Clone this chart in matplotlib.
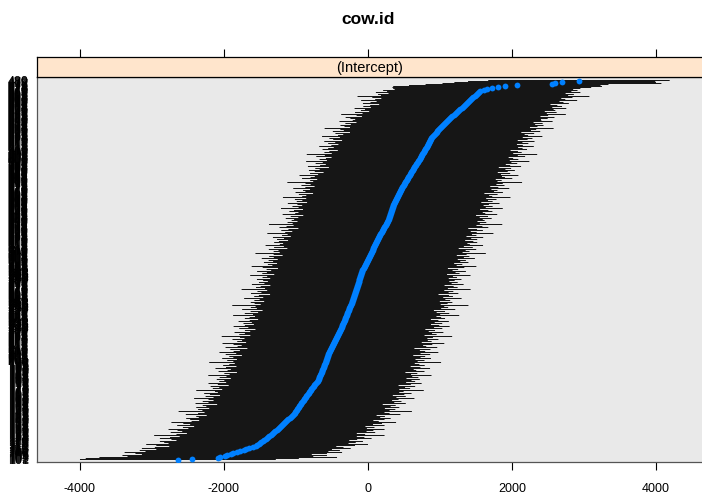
import matplotlib
matplotlib.use("Agg")
from matplotlib import pyplot as plt

plt.rcParams['font.family'] = ['Liberation Sans', 'DejaVu Sans']

# conditional modes of cow.id (sorted, bottom row first)
cow_means = [
    -2640, -2440, -2080, -2050, -1990, -1960, -1900, -1870, -1820, -1780, -1720,
    -1690, -1650, -1600, -1560, -1540, -1520, -1500, -1480, -1460, -1440, -1420, -1400,
    -1385, -1370, -1350, -1335, -1320, -1300, -1285, -1270, -1255, -1240,
    -1225, -1210, -1200, -1185, -1170, -1150, -1135, -1120, -1105, -1090, -1075, -1060, -1040,
    -1030, -1020, -1010, -1000, -990, -985, -975, -965, -955, -945, -935, -925, -915, -905, -895, -885, -875,
    -865, -855, -845, -835, -825, -815, -805, -795, -785, -775, -765, -755, -745, -735, -720, -705, -695,
    -690, -685, -680, -675, -668, -662, -655, -650, -645, -640, -635, -628, -622, -617, -612, -606,
    -600, -595, -590, -585, -580, -575, -570, -566, -561, -556,
    -550, -543, -536, -529, -522, -515, -508, -501, -494, -487, -480, -473, -466, -459, -452, -445,
    -438, -431, -424, -417, -410, -403, -396, -389,
    -383, -378, -372, -366, -360, -355, -349, -343, -337, -332, -326, -320, -314, -309, -303, -297,
    -291, -286, -280, -274, -268, -263, -257, -251, -245, -240, -234, -228, -222, -218, -215,
    -210, -205, -200, -195, -190, -185, -180, -175, -170, -165, -160, -155, -150, -146, -142, -138,
    -134, -130, -126, -122, -118, -114, -110, -106, -102, -98, -94, -90, -85,
    -78, -70, -62, -55, -48, -40, -33, -25, -18, -10, -3, 5, 12, 18, 24, 30,
    37, 44, 50, 57, 63, 70, 76, 82, 88, 95, 101, 107, 113, 120, 127, 134, 140,
    148, 156, 164, 172, 180, 188, 196, 205, 213, 221, 229, 237, 245, 254, 263, 271, 280,
    284, 288, 292, 297, 301, 305, 309, 314, 318, 322, 327, 332, 336, 341, 346, 350,
    357, 364, 371, 378, 385, 392, 399, 406, 413, 420, 427, 434, 441, 448, 455, 462, 470,
    478, 486, 494, 502, 510, 519, 527, 535, 544, 552, 561, 569, 577, 585, 593, 601, 610,
    619, 628, 637, 646, 655, 664, 673, 682, 691, 700, 708, 716, 724, 732, 741, 750,
    757, 765, 773, 781, 789, 797, 805, 813, 821, 829, 837, 845, 853, 860, 867, 874, 880,
    892, 904, 916, 928, 940, 952, 964, 976, 988, 1000,
    1014, 1028, 1042, 1056, 1070, 1084, 1098, 1112, 1126, 1140,
    1156, 1172, 1188, 1204, 1220, 1236, 1252, 1268, 1284, 1300,
    1315, 1330, 1345, 1360, 1375, 1390, 1405, 1420, 1435, 1450, 1465, 1480, 1500,
    1515, 1530, 1545, 1560, 1610, 1650, 1720, 1800, 1900, 2070, 2555, 2600, 2690, 2930,
]

# half-width of each interval (same order)
cow_halfwidth = [
    1360, 1480, 1650, 1290, 1420, 1180, 1330, 1510, 1270, 1390, 1220, 1450, 1310, 1160, 1380, 1540, 1250, 1330, 1410, 1200,
    1290, 1470, 1350, 1230, 1600, 1310, 1180, 1420, 1280, 1360, 1500, 1240, 1330, 1190, 1440, 1270, 1380, 1560, 1300, 1210,
    1350, 1420, 1260, 1310, 1180, 1490, 1330, 1250, 1620, 1300, 1370, 1220, 1410, 1280, 1340, 1150, 1460, 1290, 1380, 1240,
    1320, 1530, 1270, 1390, 1200, 1350, 1440, 1260, 1310, 1580, 1230, 1370, 1290, 1420, 1180, 1340, 1480, 1250, 1360, 1300,
    1410, 1220, 1380, 1290, 1550, 1260, 1340, 1170, 1430, 1310, 1270, 1490, 1350, 1210, 1400, 1320, 1250, 1610, 1280, 1370,
    1240, 1450, 1300, 1360, 1190, 1420, 1280, 1520, 1330, 1250, 1390, 1160, 1470, 1310, 1260, 1380, 1540, 1220, 1350, 1290,
    1430, 1270, 1340, 1600, 1210, 1370, 1300, 1450, 1240, 1320, 1180, 1410, 1290, 1500, 1350, 1230, 1380, 1270, 1460, 1310,
    1200, 1390, 1330, 1260, 1570, 1300, 1420, 1240, 1350, 1190, 1480, 1280, 1370, 1310, 1640, 1250, 1340, 1400, 1220, 1360,
    1290, 1510, 1250, 1380, 1320, 1170, 1440, 1300, 1360, 1230, 1590, 1270, 1400, 1340, 1210, 1470, 1300, 1380, 1260, 1330,
    1420, 1240, 1350, 1290, 1530, 1200, 1370, 1310, 1450, 1260, 1330, 1180, 1400, 1560, 1280, 1350, 1230, 1420, 1300, 1370,
    1250, 1480, 1320, 1390, 1210, 1340, 1600, 1270, 1360, 1300, 1440, 1190, 1380, 1250, 1510, 1320, 1280, 1410, 1350, 1230,
    1390, 1300, 1460, 1220, 1350, 1280, 1570, 1330, 1240, 1400, 1310, 1180, 1450, 1360, 1270, 1620, 1300, 1380, 1250, 1340,
    1310, 1430, 1260, 1370, 1200, 1490, 1320, 1280, 1410, 1350, 1230, 1540, 1300, 1390, 1260, 1330, 1470, 1210, 1360, 1290,
    1400, 1250, 1580, 1320, 1270, 1380, 1190, 1440, 1310, 1350, 1260, 1500, 1340, 1220, 1410, 1290, 1370, 1630, 1280, 1330,
    1240, 1460, 1350, 1300, 1520, 1270, 1390, 1210, 1340, 1430, 1290, 1360, 1180, 1480, 1320, 1250, 1400, 1310, 1550, 1270,
    1380, 1300, 1230, 1450, 1340, 1600, 1260, 1370, 1310, 1200, 1420, 1350, 1280, 1490, 1330, 1240, 1390, 1300, 1460, 1220,
    1350, 1410, 1270, 1530, 1320, 1260, 1380, 1190, 1440, 1300, 1360, 1590, 1250, 1340, 1410, 1280, 1370, 1230, 1480, 1310,
    1290, 1370, 1450, 1240, 1330, 1560, 1280, 1400, 1220, 1350, 1310, 1470, 1260, 1380, 1300, 1190, 1430, 1340, 1270, 1500,
    1320, 1250, 1390, 1610, 1300, 1360, 1230, 1420, 1280, 1350, 1240, 1300, 1380, 1450, 1330, 1270, 1520, 1400, 1300, 1260,
]

cow_ids = [str(k) for k in range(101, 101 + len(cow_means))]
x_ticks = [-4000, -2000, 0, 2000, 4000]

rows = list(range(1, len(cow_means) + 1))
lows = [m - h for m, h in zip(cow_means, cow_halfwidth)]
highs = [m + h for m, h in zip(cow_means, cow_halfwidth)]

W, H = 702, 497
fig = plt.figure(figsize=(W / 100, H / 100), dpi=100)

xlim = (-4597, 4653)
left, right = 37 / W, 703 / W
p_top, p_bot = 77, 462
s_top = 57

ax = fig.add_axes([left, 1 - p_bot / H, right - left, (p_bot - p_top) / H])
ax.set_facecolor('#e9e9e9')
ax.hlines(rows, lows, highs, color='#161616', lw=0.72, zorder=2, snap=False)
ax.plot(cow_means, rows, 'o', color='#0080ff', ms=4.2, mec='none', zorder=3)
ax.set_xlim(*xlim)
# one pixel per level, rows centred on pixel rows
ax.set_ylim(-1.5, 383.5)
ax.set_xticks(x_ticks)
ax.set_xticklabels([str(t) for t in x_ticks], fontsize=9)
ax.set_yticks(rows)
ax.set_yticklabels(cow_ids, fontsize=9)
ax.tick_params(axis='x', direction='out', length=6, width=0.8, pad=9)
ax.tick_params(axis='y', length=0, pad=6)
for s in ax.spines.values():
    s.set_color('#555555')
    s.set_linewidth(0.9)

# strip on top
sax = fig.add_axes([left, 1 - p_top / H, right - left, (p_top - s_top) / H])
sax.set_facecolor('#ffe5cc')
sax.set_xlim(*xlim)
sax.set_yticks([])
sax.set_xticks(x_ticks)
sax.tick_params(axis='x', bottom=False, labelbottom=False, top=True, labeltop=False,
                direction='out', length=6, width=0.8)
sax.text(0.5, 0.45, '(Intercept)', transform=sax.transAxes, ha='center', va='center', fontsize=10.5)
for s in sax.spines.values():
    s.set_color('black')
    s.set_linewidth(0.9)

fig.text(368 / W, 1 - 19 / H, 'cow.id', ha='center', va='center', fontsize=12.5, fontweight='bold')

fig.savefig('out.png', dpi=100)
